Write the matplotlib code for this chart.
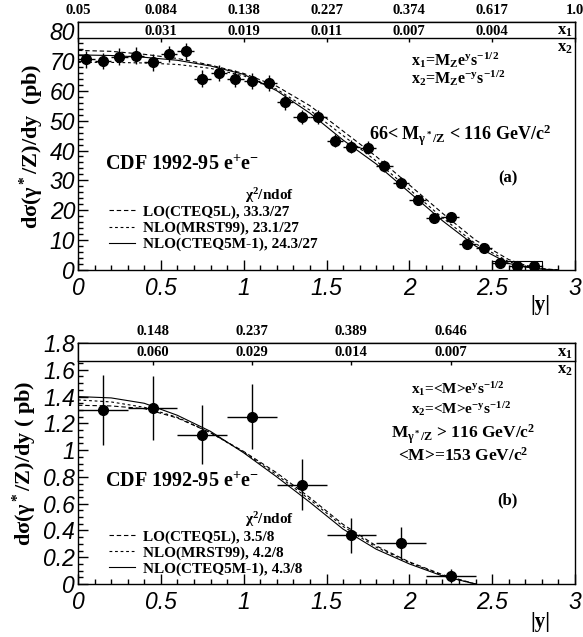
import numpy as np
import matplotlib
matplotlib.use('Agg')
import matplotlib.pyplot as plt
from matplotlib.ticker import MultipleLocator, FixedLocator

SERIF = 'Liberation Serif'
SANS = 'Liberation Sans'

plt.rcParams['font.family'] = [SANS, 'DejaVu Sans']
plt.rcParams['font.style'] = 'italic'
plt.rcParams['mathtext.fontset'] = 'custom'
plt.rcParams['mathtext.rm'] = 'Liberation Serif:style=normal:weight=bold'
plt.rcParams['mathtext.it'] = 'Liberation Serif:style=italic:weight=bold'
plt.rcParams['mathtext.bf'] = 'Liberation Serif:style=normal:weight=bold'
plt.rcParams['mathtext.default'] = 'rm'

# ---------------- panel (a) data ----------------
ya = [0.05, 0.15, 0.25, 0.35, 0.45, 0.55, 0.65, 0.75, 0.85, 0.95, 1.05, 1.15, 1.25, 1.35,
      1.45, 1.55, 1.65, 1.75, 1.85, 1.95, 2.05, 2.15, 2.25, 2.35, 2.45, 2.55, 2.65, 2.75]
va = [70.5, 70.0, 71.4, 71.7, 69.5, 72.3, 73.2, 64.1, 66.0, 64.1, 63.4, 62.6, 56.1, 51.2,
      51.2, 43.3, 41.3, 41.0, 34.7, 29.2, 23.3, 17.4, 17.8, 8.6, 7.4, 2.4, 1.3, 1.2]
ea = [2.8, 2.8, 2.8, 2.8, 2.8, 2.8, 2.8, 2.7, 2.7, 2.7, 2.7, 2.6, 2.5, 2.4,
      2.4, 2.2, 2.2, 2.2, 2.0, 1.9, 1.7, 1.5, 1.5, 1.1, 1.0, 0.6, 0.5, 0.5]
xerr_a = 0.05

curve_y_a = [0.0, 0.2, 0.4, 0.6, 0.8, 1.0, 1.2, 1.4, 1.6, 1.8, 2.0, 2.2, 2.4, 2.6, 2.7, 2.8, 2.9]
lo_a =    [73.5, 73.2, 72.2, 70.8, 68.6, 65.8, 61.5, 55.0, 46.5, 38.0, 28.5, 19.0, 10.0, 3.5, 1.6, 0.5, 0.0]
mrst_a =  [69.5, 69.5, 69.3, 68.8, 67.5, 65.0, 60.5, 53.5, 45.0, 36.5, 27.0, 17.5, 8.8, 2.8, 1.2, 0.3, 0.0]
cteq_a =  [72.0, 71.8, 71.2, 70.2, 68.3, 65.5, 60.0, 52.5, 43.5, 35.5, 26.0, 16.5, 8.0, 2.2, 1.0, 0.3, 0.0]
box_edges_a = [2.5, 2.8]
box_height_a = 3.0

x1_pos_a = [0.0, 0.5, 1.0, 1.5, 2.0, 2.5, 3.0]
x1_lab_a = ['0.05', '0.084', '0.138', '0.227', '0.374', '0.617', '1.0']
x2_pos_a = [0.5, 1.0, 1.5, 2.0, 2.5]
x2_lab_a = ['0.031', '0.019', '0.011', '0.007', '0.004']
chi_a = ['LO(CTEQ5L), 33.3/27', 'NLO(MRST99), 23.1/27', 'NLO(CTEQ5M-1), 24.3/27']

# ---------------- panel (b) data ----------------
yb = [0.15, 0.45, 0.75, 1.05, 1.35, 1.65, 1.95, 2.25]
vb = [1.30, 1.315, 1.115, 1.25, 0.74, 0.365, 0.305, 0.06]
eb = [0.26, 0.24, 0.22, 0.245, 0.19, 0.13, 0.12, 0.05]
xerr_b = 0.15

curve_y_b = [0.0, 0.2, 0.4, 0.6, 0.8, 1.0, 1.2, 1.4, 1.6, 1.8, 2.0, 2.2, 2.3, 2.4]
lo_b =   [1.335, 1.33, 1.31, 1.24, 1.13, 0.99, 0.83, 0.645, 0.445, 0.285, 0.165, 0.07, 0.035, 0.0]
mrst_b = [1.375, 1.36, 1.32, 1.245, 1.13, 0.985, 0.815, 0.63, 0.43, 0.275, 0.16, 0.065, 0.03, 0.0]
cteq_b = [1.40, 1.39, 1.35, 1.26, 1.14, 0.98, 0.80, 0.61, 0.41, 0.26, 0.15, 0.06, 0.03, 0.0]

x1_pos_b = [0.45, 1.05, 1.65, 2.25]
x1_lab_b = ['0.148', '0.237', '0.389', '0.646']
x2_lab_b = ['0.060', '0.029', '0.014', '0.007']
chi_b = ['LO(CTEQ5L), 3.5/8', 'NLO(MRST99), 4.2/8', 'NLO(CTEQ5M-1), 4.3/8']

LS_LO = (0, (4, 2.5))
LS_MRST = (0, (2.5, 2.5))

TXT = dict(fontfamily=SERIF, fontweight='bold', fontstyle='normal')

fig = plt.figure(figsize=(5.83, 6.37), dpi=100)
axA = fig.add_axes([0.1338, 0.5761, 0.8525, 0.3893])
axB = fig.add_axes([0.1338, 0.0832, 0.8525, 0.3783])


def style(ax, ymax, ymaj, ymin_, yfmt):
    ax.set_xlim(0, 3)
    ax.set_ylim(0, ymax)
    ax.xaxis.set_major_locator(MultipleLocator(0.5))
    ax.xaxis.set_minor_locator(MultipleLocator(0.1))
    ax.yaxis.set_major_locator(MultipleLocator(ymaj))
    ax.yaxis.set_minor_locator(MultipleLocator(ymin_))
    ax.tick_params(which='both', direction='in', top=False, right=False, width=1)
    ax.tick_params(which='major', length=7)
    ax.tick_params(which='minor', length=3.5)
    ax.tick_params(axis='both', labelsize=16.5)
    ax.tick_params(axis='y', pad=2)
    ax.tick_params(axis='x', pad=5)
    ax.xaxis.set_major_formatter(plt.FuncFormatter(lambda v, p: ('%g' % v)))
    ax.yaxis.set_major_formatter(plt.FuncFormatter(yfmt))
    for sp in ax.spines.values():
        sp.set_linewidth(1.0)


def strip(ax, frac, x1pos, x1lab, x2pos, x2lab):
    sa = ax.inset_axes([0, frac, 1, 1 - frac])
    sa.set_facecolor('white')
    sa.set_xlim(0, 3)
    sa.set_ylim(0, 1)
    sa.set_yticks([])
    sa.xaxis.set_major_locator(FixedLocator(x1pos))
    sa.set_xticklabels(x1lab, fontsize=10.5, **TXT)
    sa.tick_params(axis='x', top=False, labeltop=True, bottom=True, labelbottom=False,
                   direction='out', length=3, width=1, pad=0.5)
    for sp in sa.spines.values():
        sp.set_linewidth(1.0)
    for xp, t in zip(x2pos, x2lab):
        sa.text(xp, 0.45, t, ha='center', va='center', fontsize=10.5, **TXT)
    sa.text(0.995, 0.45, r'x$_1$', transform=sa.transAxes, ha='right', va='center',
            fontsize=12, **TXT)
    ax.text(0.995, frac - 0.005, r'x$_2$', transform=ax.transAxes, ha='right', va='top',
            fontsize=12, **TXT)
    return sa


def curves_and_legend(ax, cy, lo, mrst, cteq, labels, leg_y, chi_y):
    l1, = ax.plot(cy, lo, color='k', lw=0.8, ls=LS_LO)
    l2, = ax.plot(cy, mrst, color='k', lw=0.8, ls=LS_MRST)
    l3, = ax.plot(cy, cteq, color='k', lw=0.8, ls='-')
    ax.legend([l1, l2, l3], labels, loc='upper left', bbox_to_anchor=(0.062, leg_y),
              frameon=False, handlelength=1.7, handletextpad=0.55, labelspacing=0.15,
              borderaxespad=0, borderpad=0,
              prop={'family': SERIF, 'weight': 'bold', 'style': 'normal', 'size': 11})
    ax.text(0.337, chi_y, r'$\chi^2$/ndof', transform=ax.transAxes, ha='left',
            va='bottom', fontsize=11, **TXT)


# ---------------- panel (a) ----------------
style(axA, 83, 10, 2, lambda v, p: '%d' % v)
axA.errorbar(ya, va, xerr=xerr_a, yerr=ea, fmt='o', ms=7, color='k', elinewidth=1, capsize=0)
curves_and_legend(axA, curve_y_a, lo_a, mrst_a, cteq_a, chi_a, 0.262, 0.262)
axA.plot([box_edges_a[0], box_edges_a[0], box_edges_a[1], box_edges_a[1]],
         [0, box_height_a, box_height_a, 0], color='k', lw=0.8)
strip(axA, 77.5 / 83, x1_pos_a, x1_lab_a, x2_pos_a, x2_lab_a)

axA.set_ylabel(r'd$\sigma$($\gamma^*$/Z)/dy  (pb)', fontsize=16, labelpad=3, **TXT)
axA.text(0.67, 0.845, r'x$_1$=M$_Z$e$^y$s$^{-1/2}$', transform=axA.transAxes, ha='left',
         va='center', fontsize=11.5, **TXT)
axA.text(0.67, 0.772, r'x$_2$=M$_Z$e$^{-y}$s$^{-1/2}$', transform=axA.transAxes, ha='left',
         va='center', fontsize=11.5, **TXT)
axA.text(0.585, 0.545, r'66< M$_{\gamma^*/Z}$ < 116 GeV/c$^2$', transform=axA.transAxes,
         ha='left', va='center', fontsize=13, **TXT)
axA.text(0.865, 0.37, '(a)', transform=axA.transAxes, ha='center', va='center',
         fontsize=12, **TXT)
axA.text(0.055, 0.425, r'CDF 1992-95 e$^{+}$e$^{-}$', transform=axA.transAxes, ha='left',
         va='center', fontsize=14.5, **TXT)
fig.text(540 / 583, 1 - 305 / 637, '|y|', ha='center', va='center', fontsize=15, **TXT)

# ---------------- panel (b) ----------------
style(axB, 1.8, 0.2, 0.05, lambda v, p: ('%g' % round(v, 2)))
axB.errorbar(yb, vb, xerr=xerr_b, yerr=eb, fmt='o', ms=7, color='k', elinewidth=1, capsize=0)
curves_and_legend(axB, curve_y_b, lo_b, mrst_b, cteq_b, chi_b, 0.225, 0.23)
strip(axB, 1.666 / 1.8, x1_pos_b, x1_lab_b, x1_pos_b, x2_lab_b)

axB.set_ylabel(r'd$\sigma$($\gamma^*$/Z)/dy ( pb)', fontsize=16, labelpad=3, **TXT)
axB.text(0.67, 0.808, r'x$_1$=<M>e$^y$s$^{-1/2}$', transform=axB.transAxes, ha='left',
         va='center', fontsize=11, **TXT)
axB.text(0.67, 0.727, r'x$_2$=<M>e$^{-y}$s$^{-1/2}$', transform=axB.transAxes, ha='left',
         va='center', fontsize=11, **TXT)
axB.text(0.775, 0.62, r'M$_{\gamma^*/Z}$ > 116 GeV/c$^2$', transform=axB.transAxes,
         ha='center', va='center', fontsize=12.5, **TXT)
axB.text(0.775, 0.532, r'<M>=153 GeV/c$^2$', transform=axB.transAxes,
         ha='center', va='center', fontsize=12.5, **TXT)
axB.text(0.865, 0.345, '(b)', transform=axB.transAxes, ha='center', va='center',
         fontsize=12, **TXT)
axB.text(0.055, 0.425, r'CDF 1992-95 e$^{+}$e$^{-}$', transform=axB.transAxes, ha='left',
         va='center', fontsize=14.5, **TXT)
fig.text(540 / 583, 1 - 622 / 637, '|y|', ha='center', va='center', fontsize=15, **TXT)

fig.savefig('out.png', dpi=100)
